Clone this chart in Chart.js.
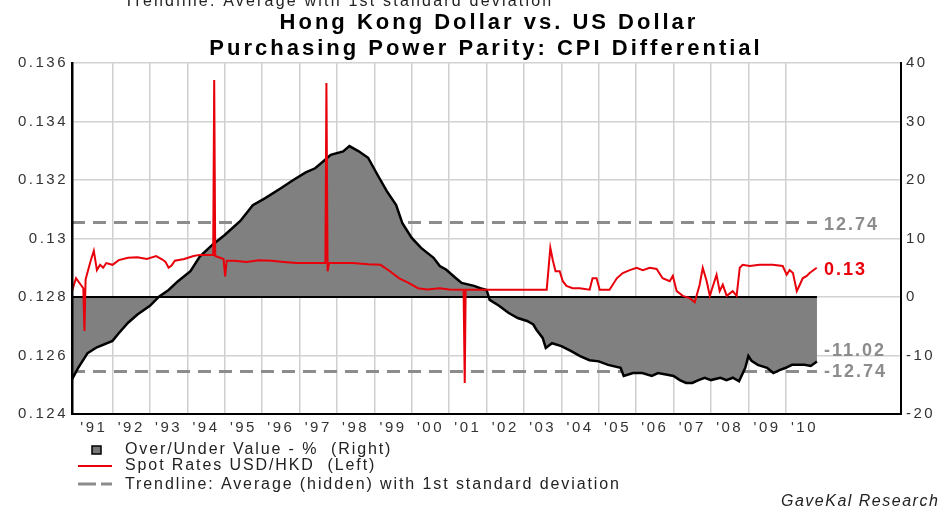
<!DOCTYPE html>
<html>
<head>
<meta charset="utf-8">
<script src="https://cdn.jsdelivr.net/npm/chart.js@4.4.1/dist/chart.umd.min.js"></script>
<style>
  html, body { margin: 0; padding: 0; background: #fff; overflow: hidden; }
</style>
</head>
<body>
<canvas id="chart" width="940" height="508"></canvas>
<script>
// Over/Under Value - % (right axis), monthly readings
const areaDates = [
  "1990-12","1991-02","1991-05","1991-08","1992-01","1992-03","1992-06","1992-09",
  "1993-01","1993-04","1993-07","1993-10","1994-02","1994-05","1994-09","1995-01",
  "1995-06","1995-10","1996-02","1996-07","1996-11","1997-03","1997-06","1997-08",
  "1997-11","1998-03","1998-05","1998-08","1998-11","1999-02","1999-05","1999-08",
  "1999-10","2000-01","2000-04","2000-08","2000-10","2000-12","2001-03","2001-05",
  "2001-09","2001-11","2002-01","2002-02","2002-05","2002-08","2002-11","2003-02",
  "2003-04","2003-05","2003-07","2003-08","2003-10","2004-01","2004-04","2004-07",
  "2004-10","2005-01","2005-04","2005-08","2005-09","2005-12","2006-03","2006-06",
  "2006-08","2006-11","2007-01","2007-03","2007-05","2007-07","2007-09","2007-11",
  "2008-01","2008-04","2008-06","2008-08","2008-10","2008-12","2009-01","2009-02",
  "2009-04","2009-07","2009-09","2009-11","2010-01","2010-03","2010-05","2010-07",
  "2010-09","2010-11"
];
const areaValues = [
  -14.1,-12.1,-9.6,-8.6,-7.5,-6.2,-4.4,-3.0,
  -1.5,0.1,1.2,2.7,4.4,6.9,8.9,10.6,
  13.0,15.7,16.9,18.6,20.0,21.3,22.0,22.9,
  24.3,24.9,25.8,24.9,23.8,20.9,18.1,15.7,
  12.6,10.1,8.4,6.7,5.3,4.7,3.3,2.4,
  1.9,1.5,1.2,-0.5,-1.5,-2.7,-3.6,-4.1,
  -4.7,-5.6,-7.0,-8.7,-7.9,-8.4,-9.2,-10.1,
  -10.8,-11.0,-11.6,-12.1,-13.5,-13.0,-13.0,-13.5,
  -13.0,-13.3,-13.5,-14.2,-14.7,-14.7,-14.2,-13.8,
  -14.2,-13.8,-14.2,-13.8,-14.4,-12.1,-10.1,-10.9,
  -11.6,-12.1,-13.0,-12.5,-12.1,-11.6,-11.6,-11.6,
  -11.8,-11.02
];

// Spot Rates USD/HKD (left axis)
const spotDates = [
  "1990-12-01","1991-01-10","1991-03-20","1991-04-01","1991-04-12","1991-06-01","1991-07-01","1991-08-01",
  "1991-09-01","1991-10-01","1991-11-01","1992-01-01","1992-03-01","1992-06-01","1992-09-01","1992-12-01",
  "1993-03-01","1993-05-01","1993-06-01","1993-07-01","1993-08-01","1993-09-01","1993-12-01","1994-03-01",
  "1994-05-01","1994-07-01","1994-09-10","1994-09-20","1994-09-30","1994-12-20","1995-01-05","1995-01-20",
  "1995-04-01","1995-08-01","1995-12-01","1996-04-01","1996-08-01","1996-12-01","1997-03-01","1997-06-01",
  "1997-09-10","1997-09-20","1997-10-01","1997-10-15","1998-01-01","1998-06-01","1998-11-01","1999-03-01",
  "1999-06-01","1999-09-01","1999-12-01","2000-03-01","2000-06-01","2000-10-01","2001-01-01","2001-05-20",
  "2001-06-01","2001-06-10","2003-08-10","2003-09-15","2003-10-10","2003-11-05","2003-12-15","2004-01-15",
  "2004-02-20","2004-04-20","2004-06-28","2004-10-03","2004-11-01","2004-12-10","2005-01-10","2005-04-15",
  "2005-06-25","2005-08-22","2005-10-30","2006-01-05","2006-03-05","2006-05-12","2006-07-18","2006-09-16",
  "2006-11-24","2006-12-24","2007-02-01","2007-03-30","2007-06-07","2007-07-25","2007-09-12","2007-10-12",
  "2007-11-20","2007-12-20","2008-02-25","2008-03-25","2008-04-25","2008-06-02","2008-07-31","2008-09-08",
  "2008-10-08","2008-11-06","2009-01-14","2009-04-20","2009-08-25","2009-12-01","2010-01-10","2010-02-08",
  "2010-03-10","2010-04-17","2010-05-16","2010-06-14","2010-07-23","2010-08-21","2010-10-29"
];
const spotValues = [
  0.1282,0.12864,0.1283,0.12684,0.1286,0.12924,0.12958,0.12892,
  0.1291,0.129,0.12916,0.1291,0.12926,0.12934,0.12936,0.1293,
  0.1294,0.12928,0.1292,0.129,0.12908,0.12924,0.1293,0.1294,
  0.12944,0.12944,0.12944,0.13542,0.1294,0.1293,0.1287,0.12924,
  0.12924,0.1292,0.12926,0.12924,0.1292,0.12916,0.12916,0.12916,
  0.12916,0.13532,0.12888,0.12916,0.12916,0.12916,0.12912,0.1291,
  0.12888,0.12864,0.12848,0.1283,0.12826,0.1283,0.12826,0.12825,
  0.12506,0.12825,0.12825,0.12968,0.12924,0.12888,0.12888,0.12854,
  0.12838,0.1283,0.1283,0.12825,0.12864,0.12864,0.12825,0.12825,
  0.12864,0.12882,0.12892,0.129,0.12892,0.129,0.12896,0.12864,
  0.12854,0.12872,0.1282,0.12804,0.12796,0.12782,0.12842,0.129,
  0.12854,0.12804,0.12876,0.1282,0.12842,0.12804,0.1282,0.12804,
  0.129,0.1291,0.12906,0.1291,0.1291,0.12906,0.12876,0.12892,
  0.12882,0.1282,0.12842,0.12864,0.12872,0.12882,0.129
];

// trendline: 1st standard deviation band (right axis)
const bandValue = 12.74;

// axis ticks
const tickYears = [1991,1992,1993,1994,1995,1996,1997,1998,1999,2000,
                   2001,2002,2003,2004,2005,2006,2007,2008,2009,2010];
const leftTicks = [0.124, 0.126, 0.128, 0.13, 0.132, 0.134, 0.136];
const rightTicks = [-20, -10, 0, 10, 20, 30, 40];

const titleLines = ["Hong Kong Dollar vs. US Dollar", "Purchasing Power Parity: CPI Differential"];
const legendItems = [
  "Over/Under Value - %  (Right)",
  "Spot Rates USD/HKD  (Left)",
  "Trendline: Average (hidden) with 1st standard deviation"
];

function toYear(s) {
  const p = s.split("-").map(Number);
  return p[0] + (p[1] - 1) / 12 + ((p[2] || 1) - 1) / 365;
}

const areaData = areaDates.map((d, i) => ({ x: toYear(d), y: areaValues[i] }));
const spotData = spotDates.map((d, i) => ({ x: toYear(d), y: spotValues[i] }));
const firstX = areaData[0].x;
const lastX = areaData[areaData.length - 1].x;

const FONT = "'Liberation Sans', Arial, sans-serif";

const textPlugin = {
  id: "texts",
  beforeDraw(chart) {
    chart.ctx.letterSpacing = "2.5px";
  },
  afterDraw(chart) {
    const ctx = chart.ctx;
    const yR = chart.scales.yR;
    const yL = chart.scales.yL;
    const xEnd = chart.scales.x.getPixelForValue(lastX) + 7;
    ctx.save();

    // cut-off line at the very top
    ctx.letterSpacing = "2.2px";
    ctx.fillStyle = "#222";
    ctx.font = "16px " + FONT;
    ctx.textAlign = "left";
    ctx.textBaseline = "alphabetic";
    ctx.fillText("Trendline: Average with 1st standard deviation", 124, 6);

    // title
    ctx.letterSpacing = "3px";
    ctx.fillStyle = "#000";
    ctx.font = "bold 22px " + FONT;
    ctx.textAlign = "center";
    ctx.fillText(titleLines[0], 489, 29);
    ctx.fillText(titleLines[1], 486, 55);

    // end labels
    ctx.letterSpacing = "2px";
    ctx.font = "bold 18px " + FONT;
    ctx.textAlign = "left";
    ctx.textBaseline = "middle";
    ctx.fillStyle = "#8c8c8c";
    ctx.fillText(bandValue.toFixed(2), xEnd, yR.getPixelForValue(bandValue) + 3);
    ctx.fillText((-bandValue).toFixed(2), xEnd, yR.getPixelForValue(-bandValue) + 1);
    ctx.fillText(areaValues[areaValues.length - 1].toFixed(2), xEnd, yR.getPixelForValue(areaValues[areaValues.length - 1]) - 10);
    ctx.fillStyle = "#e8000b";
    ctx.fillText(spotValues[spotValues.length - 1].toFixed(2), xEnd, yL.getPixelForValue(spotValues[spotValues.length - 1]) + 2);

    // legend
    ctx.letterSpacing = "1.9px";
    ctx.font = "16px " + FONT;
    ctx.fillStyle = "#222";
    const rows = [450, 466, 485];
    legendItems.forEach((t, i) => ctx.fillText(t, 125, rows[i]));
    ctx.fillStyle = "#777";
    ctx.fillRect(92, 446, 9, 8);
    ctx.strokeStyle = "#000";
    ctx.lineWidth = 1.5;
    ctx.strokeRect(92, 446, 9, 8);
    ctx.beginPath();
    ctx.strokeStyle = "#e8000b";
    ctx.lineWidth = 2;
    ctx.moveTo(78, 466); ctx.lineTo(112, 466);
    ctx.stroke();
    ctx.beginPath();
    ctx.strokeStyle = "#8c8c8c";
    ctx.lineWidth = 3;
    ctx.moveTo(78, 484); ctx.lineTo(96, 484);
    ctx.moveTo(101, 484); ctx.lineTo(112, 484);
    ctx.stroke();

    // credit
    ctx.letterSpacing = "1.5px";
    ctx.font = "italic 16px " + FONT;
    ctx.fillStyle = "#222";
    ctx.textBaseline = "alphabetic";
    ctx.fillText("GaveKal Research", 781, 506);
    ctx.restore();
  }
};

const ctx = document.getElementById("chart").getContext("2d");
const myChart = new Chart(ctx, {
  type: "line",
  data: {
    datasets: [
      {
        label: "Spot Rates USD/HKD (Left)",
        data: spotData,
        yAxisID: "yL",
        borderColor: "#e8000b",
        borderWidth: 2,
        pointRadius: 0,
        fill: false,
        order: 1
      },
      {
        label: "zero",
        data: [{ x: firstX, y: 0 }, { x: lastX, y: 0 }],
        yAxisID: "yR",
        borderColor: "#000",
        borderWidth: 2,
        pointRadius: 0,
        fill: false,
        order: 2
      },
      {
        label: "Over/Under Value - % (Right)",
        data: areaData,
        yAxisID: "yR",
        borderColor: "#000",
        borderWidth: 2.5,
        backgroundColor: "#808080",
        pointRadius: 0,
        fill: "origin",
        order: 3
      },
      {
        label: "+1 sd",
        data: [{ x: firstX, y: bandValue }, { x: lastX, y: bandValue }],
        yAxisID: "yR",
        borderColor: "#8c8c8c",
        borderWidth: 3,
        borderDash: [13, 8],
        pointRadius: 0,
        fill: false,
        order: 4
      },
      {
        label: "-1 sd",
        data: [{ x: firstX, y: -bandValue }, { x: lastX, y: -bandValue }],
        yAxisID: "yR",
        borderColor: "#8c8c8c",
        borderWidth: 3,
        borderDash: [13, 8],
        pointRadius: 0,
        fill: false,
        order: 4
      }
    ]
  },
  options: {
    responsive: false,
    devicePixelRatio: 1,
    animation: false,
    layout: { padding: { top: 63, bottom: 64, left: 0, right: 0 } },
    plugins: {
      legend: { display: false },
      tooltip: { enabled: false }
    },
    scales: {
      x: {
        type: "linear",
        position: "bottom",
        min: 1990.917,
        max: 2013.08,
        afterBuildTicks: (scale) => { scale.ticks = tickYears.map(y => ({ value: y + 0.5 })); },
        afterFit: (scale) => { scale.height = 30; },
        grid: { display: false, drawTicks: false },
        border: { display: true, color: "#000", width: 2, z: 1 },
        ticks: {
          autoSkip: false,
          maxRotation: 0,
          padding: 5,
          color: "#333",
          font: { family: FONT, size: 15 },
          callback: (v) => "'" + String(Math.round(v - 0.5)).slice(2)
        }
      },
      xg: {
        type: "linear",
        position: "bottom",
        min: 1990.917,
        max: 2013.08,
        afterBuildTicks: (scale) => { scale.ticks = tickYears.slice(1).map(y => ({ value: y })); },
        afterFit: (scale) => { scale.height = 0; },
        grid: { color: "#cfcfcf", lineWidth: 1.5, drawTicks: false },
        border: { display: false },
        ticks: { display: false }
      },
      yL: {
        type: "linear",
        position: "left",
        min: 0.124,
        max: 0.136,
        afterBuildTicks: (scale) => { scale.ticks = leftTicks.map(v => ({ value: v })); },
        afterFit: (scale) => { scale.width = 72; },
        grid: { color: "#d2d2d2", lineWidth: 1.5, drawTicks: false },
        border: { display: true, color: "#000", width: 2.5, z: 1 },
        ticks: {
          padding: 4,
          color: "#333",
          font: { family: FONT, size: 15 },
          callback: (v) => String(Number(v.toFixed(3)))
        }
      },
      yR: {
        type: "linear",
        position: "right",
        min: -20,
        max: 40,
        afterBuildTicks: (scale) => { scale.ticks = rightTicks.map(v => ({ value: v })); },
        afterFit: (scale) => { scale.width = 39; },
        grid: { display: false, drawTicks: false },
        border: { display: true, color: "#000", width: 2, z: 1 },
        ticks: {
          padding: 5,
          color: "#333",
          font: { family: FONT, size: 15 },
          callback: (v) => String(v)
        }
      }
    }
  },
  plugins: [textPlugin]
});
</script>
</body>
</html>
